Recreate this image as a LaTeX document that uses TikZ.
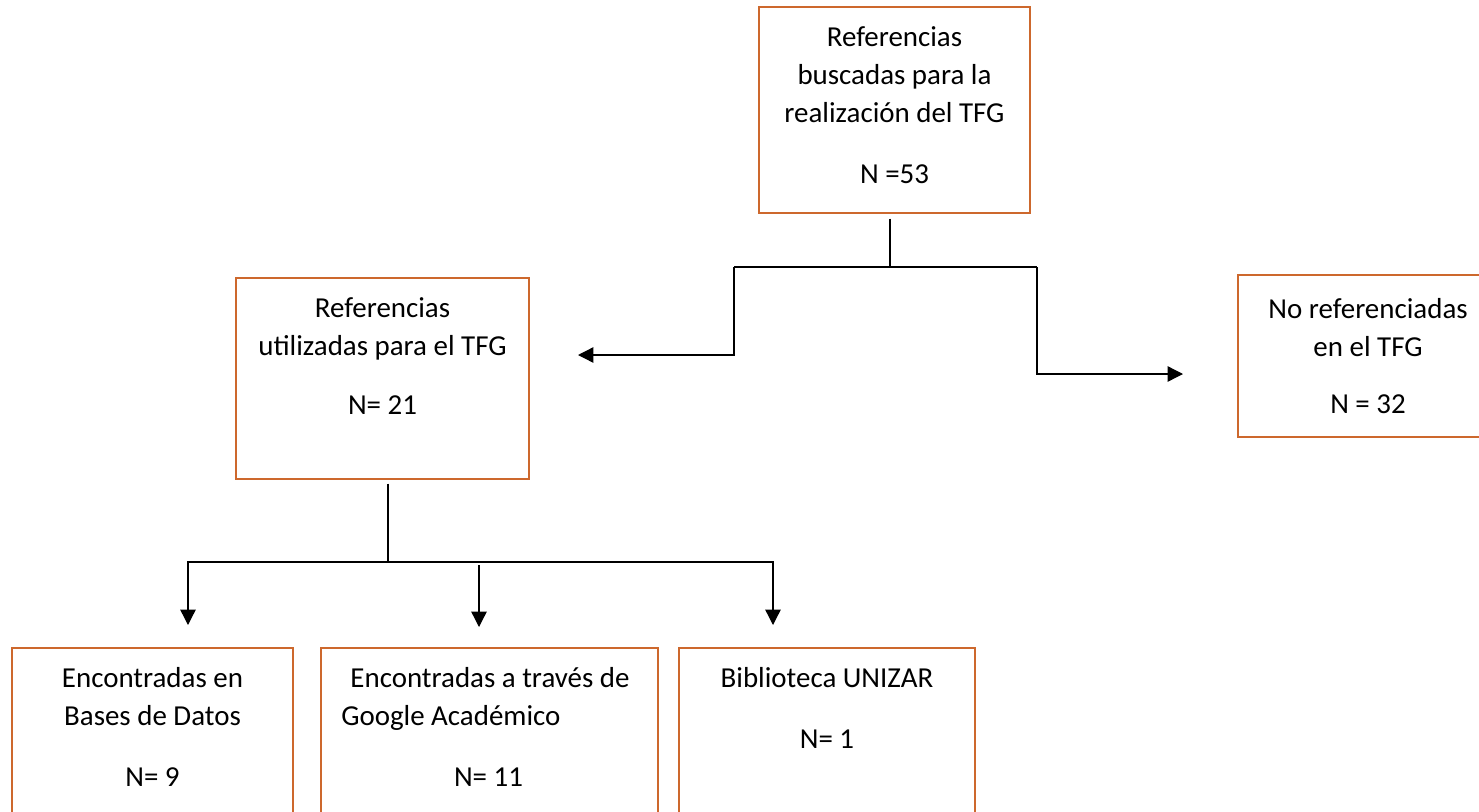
\documentclass[tikz,border=0pt]{standalone}
\usepackage{fontspec}
\setmainfont{Carlito}
\usetikzlibrary{arrows.meta}
\newdimen\pxu \pxu=0.75pt
\definecolor{boxc}{RGB}{205,104,45}
\begin{document}
\begin{tikzpicture}[x=0.75pt,y=-0.75pt,
  box/.style={draw=boxc, line width=0.8pt, inner sep=0pt, rectangle},
  txt/.style={anchor=base, inner sep=0pt, font=\fontsize{21.7}{26}\selectfont},
  conn/.style={draw=black, line width=1pt},
  arr/.style={-{Triangle[length=11.5pt,width=11.5pt]}}]
\useasboundingbox (0,0) rectangle (1479,811);

% boxes
\node[box, minimum width=271\pxu, minimum height=206\pxu] (top) at (894.5,110) {};
\node[box, minimum width=293\pxu, minimum height=201\pxu] (left) at (382.5,378.5) {};
\node[box, minimum width=260\pxu, minimum height=162\pxu] (right) at (1368,356) {};
\node[box, minimum width=281\pxu, minimum height=200\pxu] (b1) at (152.5,748) {};
\node[box, minimum width=337\pxu, minimum height=200\pxu] (b2) at (489.5,748) {};
\node[box, minimum width=296\pxu, minimum height=200\pxu] (b3) at (827,748) {};

% texts
\node[txt] (t1a) at (894.5,46) {Referencias};
\node[txt] (t1b) at (894.5,84) {buscadas para la};
\node[txt] (t1c) at (894.5,122) {realización del TFG};
\node[txt] (t1d) at (894.5,183) {N =53};

\node[txt] (t2a) at (382.5,317) {Referencias};
\node[txt] (t2b) at (382.5,355) {utilizadas para el TFG};
\node[txt] (t2c) at (382.5,414) {N= 21};

\node[txt] (t3a) at (1368,318) {No referenciadas};
\node[txt] (t3b) at (1368,356) {en el TFG};
\node[txt] (t3c) at (1368,413) {N = 32};

\node[txt] (t4a) at (152.5,687) {Encontradas en};
\node[txt] (t4b) at (152.5,725) {Bases de Datos};
\node[txt] (t4c) at (152.5,786) {N= 9};

\node[txt] (t5a) at (490,687) {Encontradas a través de};
\node[txt, anchor=base west] (t5b) at (341,725) {Google Académico};
\node[txt] (t5c) at (488.5,786) {N= 11};

\node[txt] (t6a) at (827,687) {Biblioteca UNIZAR};
\node[txt] (t6c) at (827,748) {N= 1};

% connector coordinates
\coordinate (jt) at (890,267);
\coordinate (cL) at (734,267);
\coordinate (cR) at (1037,267);
\coordinate (tipL) at (578,355);
\coordinate (tipR) at (1183,374);
\coordinate (jb) at (388,562);
\coordinate (tipB1) at (188,625);
\coordinate (tipB3) at (773,625);
\coordinate (sB2) at (479,565);
\coordinate (tipB2) at (479,627);

% connectors
\draw[conn] (top.south -| jt) ++(0,5) -- (jt);
\draw[conn] (cL) -- (cR);
\draw[conn, arr] (cL) |- (tipL);
\draw[conn, arr] (cR) |- (tipR);
\draw[conn] (left.south -| jb) ++(0,4) -- (jb);
\draw[conn, arr] (jb) -| (tipB1);
\draw[conn, arr] (jb) -| (tipB3);
\draw[conn, arr] (sB2) -- (tipB2);
\end{tikzpicture}
\end{document}
